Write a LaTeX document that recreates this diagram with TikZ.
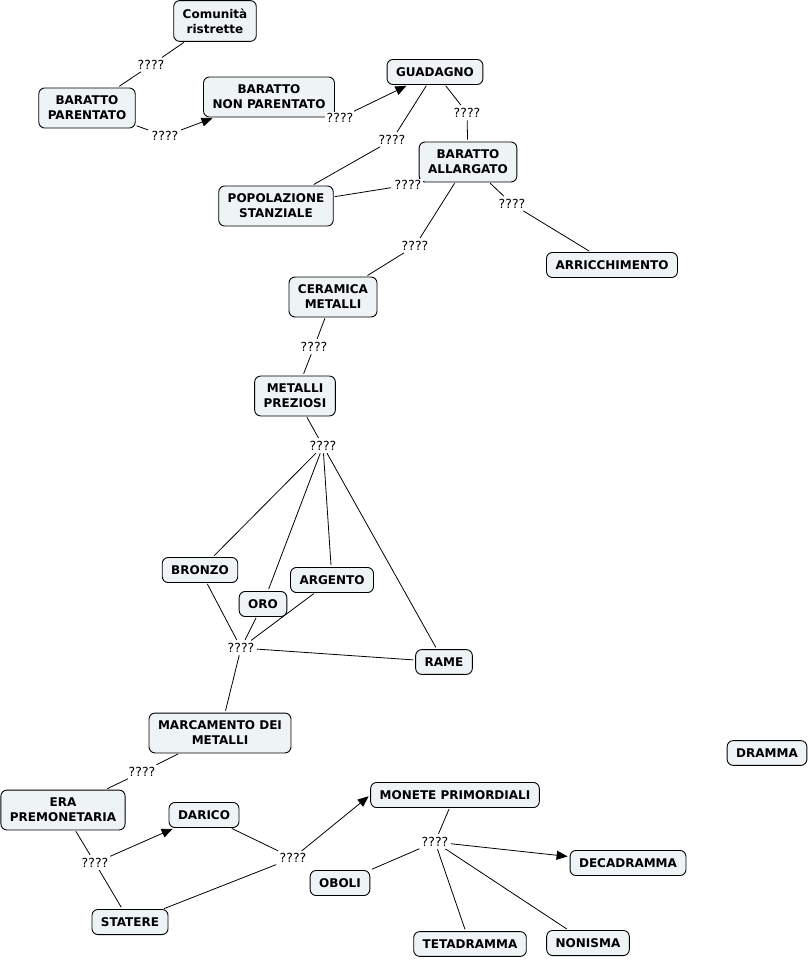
\documentclass[tikz,border=0pt]{standalone}
\usepackage{fontspec}
\setmainfont{DejaVu Sans}
\usetikzlibrary{arrows.meta,backgrounds}
\definecolor{conceptfill}{RGB}{238,243,245}

\begin{document}
\begin{tikzpicture}[x=1pt,y=-1pt,
    linkarrow/.style={-{Triangle[length=11pt,width=9pt]}}]
  \useasboundingbox (0,0) rectangle (807,960);

        \begin{scope}[every node/.style={draw, rounded corners=6pt, fill=conceptfill, line width=0.9pt,
            align=center, inner xsep=9pt, inner ysep=8pt, font=\bfseries\fontsize{12}{15}\selectfont}]
          \node (com)  at (215,21)  {Comunità\\ristrette};
          \node (bp)   at (87,108)  {BARATTO\\PARENTATO};
          \node (bnp)  at (269,97)  {BARATTO\\NON PARENTATO};
          \node (guad) at (435,72)  {GUADAGNO};
          \node (ba)   at (468,162) {BARATTO\\ALLARGATO};
          \node (pop)  at (276,206) {POPOLAZIONE\\STANZIALE};
          \node (arr)  at (612,265) {ARRICCHIMENTO};
          \node (cer)  at (333,297) {CERAMICA\\METALLI};
          \node (mp)   at (295,396) {METALLI\\PREZIOSI};
          \node (bro)  at (200,570) {BRONZO};
          \node (oro)  at (263,604) {ORO};
          \node (arg)  at (332,580) {ARGENTO};
          \node (rame) at (444,662) {RAME};
          \node (marc) at (220,733) {MARCAMENTO DEI\\METALLI};
          \node (dra)  at (767,753) {DRAMMA};
          \node (era)  at (63,810)  {ERA\\PREMONETARIA};
          \node (dar)  at (204,815) {DARICO};
          \node (mon)  at (455,795) {MONETE PRIMORDIALI};
          \node (deca) at (628,863) {DECADRAMMA};
          \node (obo)  at (340,883) {OBOLI};
          \node (stat) at (130,922) {STATERE};
          \node (teta) at (470,944) {TETADRAMMA};
          \node (non)  at (588,943) {NONISMA};
        \end{scope}

        \begin{scope}[every node/.style={fill=white, inner sep=1.5pt, font=\fontsize{12.5}{14}\selectfont}]
          \node (l1)  at (151,65)  {????};
          \node (l2)  at (165,136) {????};
          \node (l3)  at (340,118) {????};
          \node (l4)  at (392,140) {????};
          \node (l5)  at (467,113) {????};
          \node (l6)  at (408,185) {????};
          \node (l7)  at (512,204) {????};
          \node (l8)  at (415,246) {????};
          \node (l9)  at (314,347) {????};
          \node (l10) at (323,446) {????};
          \node (l11) at (241,648) {????};
          \node (l12) at (142,772) {????};
          \node (l13) at (95,863)  {????};
          \node (l14) at (293,858) {????};
          \node (l15) at (435,842) {????};
        \end{scope}

        \begin{pgfonlayer}{background}
          \begin{scope}[every edge/.style={draw, line width=0.8pt, shorten <=1pt, shorten >=2pt}]
            \path (com)  edge (l1);
            \path (l1)   edge (bp);
            \path (bp)   edge (l2);
            \path (l2)   edge[linkarrow] (bnp);
            \path (bnp)  edge (l3);
            \path (l3)   edge[linkarrow] (guad);
            \path (guad) edge (l4);
            \path (l4)   edge (pop);
            \path (guad) edge (l5);
            \path (l5)   edge (ba);
            \path (pop)  edge (l6);
            \path (l6)   edge (ba);
            \path (ba)   edge (l7);
            \path (l7)   edge (arr);
            \path (ba)   edge (l8);
            \path (l8)   edge (cer);
            \path (cer)  edge (l9);
            \path (l9)   edge (mp);
            \path (mp)   edge (l10);
            \path (l10)  edge (bro);
            \path (l10)  edge (oro);
            \path (l10)  edge (arg);
            \path (l10)  edge (rame);
            \path (bro)  edge (l11);
            \path (oro)  edge (l11);
            \path (arg)  edge (l11);
            \path (l11)  edge (rame);
            \path (l11)  edge (marc);
            \path (marc) edge (l12);
            \path (l12)  edge (era);
            \path (era)  edge (l13);
            \path (l13)  edge[linkarrow] (dar);
            \path (l13)  edge (stat);
            \path (dar)  edge (l14);
            \path (stat) edge (l14);
            \path (l14)  edge[linkarrow] (mon.west);
            \path (mon)  edge (l15);
            \path (l15)  edge (obo);
            \path (l15)  edge[linkarrow] (deca);
            \path (l15)  edge (teta);
            \path (l15)  edge (non);
          \end{scope}
        \end{pgfonlayer}

      \end{tikzpicture}
\end{document}
